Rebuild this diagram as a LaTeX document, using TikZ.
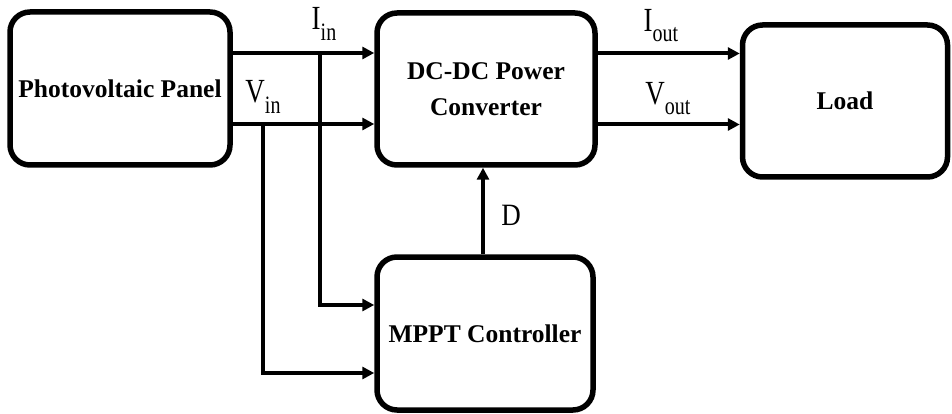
\documentclass[tikz,border=0pt]{standalone}
\usepackage{fontspec}
\setmainfont{Liberation Serif}
\usetikzlibrary{arrows.meta}
\tikzset{
  block/.style={draw, line width=5.5pt, rounded corners=20pt, align=center,
    font=\fontsize{25.5}{36}\selectfont\bfseries, inner sep=0pt},
  sig/.style={line width=4pt, -{Triangle[length=12pt,width=12pt]}},
  lbl/.style={inner sep=0pt, font=\fontsize{27}{27}\selectfont}
}
\newcommand{\sigtext}[2]{\scalebox{1}[1.25]{#1\raisebox{-0.3em}{\fontsize{20}{20}\selectfont #2}}}
\begin{document}
\begin{tikzpicture}[x=1pt,y=1pt]
\useasboundingbox (0,0) rectangle (952,-414);
\node[block, minimum width=220pt, minimum height=153pt] (pv) at (120,-88.5) {Photovoltaic Panel};
\node[block, minimum width=218pt, minimum height=152pt] (dc) at (486,-89) {DC-DC Power\\Converter};
\node[block, minimum width=205pt, minimum height=152pt] (load) at (845,-101) {Load};
\node[block, minimum width=216pt, minimum height=153pt] (mppt) at (485,-333.5) {\raisebox{-7pt}{MPPT Controller}};
% input lines
\draw[sig] ([yshift=35.5pt]pv.east) -- ([yshift=35.5pt]pv.east -| dc.west);
\draw[sig] ([yshift=-35.5pt]pv.east) -- ([yshift=-35.5pt]pv.east -| dc.west);
\coordinate (ji) at (320,-53);
\coordinate (jv) at (263,-124);
\draw[sig] (ji) |- ([yshift=28.5pt]mppt.west);
\draw[sig] (jv) |- ([yshift=-39.5pt]mppt.west);
% outputs
\draw[sig] ([yshift=35.5pt]dc.east) -- ([yshift=35.5pt]dc.east -| load.west);
\draw[sig] ([yshift=-35.5pt]dc.east) -- ([yshift=-35.5pt]dc.east -| load.west);
% D
\draw[sig] ([xshift=-2pt]mppt.north) -- ([xshift=-2pt]mppt.north |- dc.south);
% labels
\node[lbl] (li) at (324,-24) {\sigtext{I}{in}};
\node[lbl] (lv) at (263,-97) {\sigtext{V}{in}};
\node[lbl] (lio) at (661,-26) {\sigtext{I}{out}};
\node[lbl] (lvo) at (668,-99) {\sigtext{V}{out}};
\node[lbl] (ld) at (511,-215) {\scalebox{1}[1.15]{D}};
\end{tikzpicture}
\end{document}
